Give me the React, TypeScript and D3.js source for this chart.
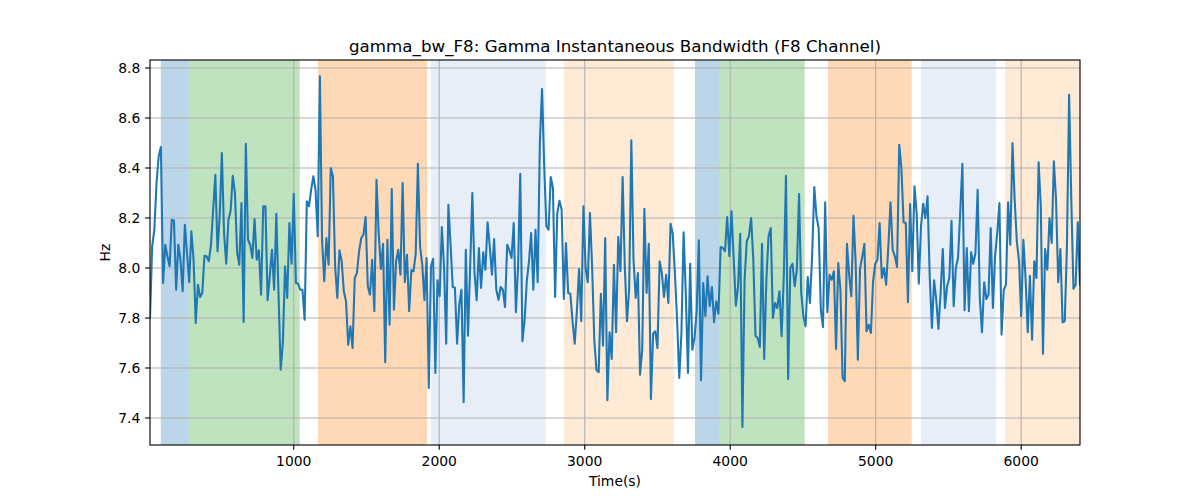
import React from "react";
import * as d3 from "d3";

// ---- data ----
const T0 = 12;
const STEP = 14.97;

const bandwidth: number[] = [
  // segment 1
  7.800, 8.087, 8.153, 8.340, 8.447, 8.484, 7.940, 8.093, 8.047, 8.007,
  8.193, 8.190, 7.913, 8.093, 8.033, 7.907, 8.173, 8.060, 7.943, 8.147,
  8.033, 7.780, 7.933, 7.884, 7.900, 8.049, 8.047, 8.027, 8.093, 8.233,
  8.373, 8.067, 8.207, 8.460, 8.140, 8.017, 8.193, 8.227, 8.369, 8.300,
  8.063, 8.013, 8.260, 7.784, 8.497, 8.113, 8.093, 8.040, 8.196, 8.033,
  8.071, 7.893, 8.247, 8.247, 7.871, 7.967, 8.073, 7.913, 8.217, 7.900,
  7.593, 7.700, 8.007, 7.880, 8.180, 8.017, 8.297, 7.940, 7.937, 7.913,
  7.913,
  // segment 2
  7.793, 8.267, 8.247, 8.313, 8.367, 8.313, 8.127, 8.767, 8.113, 7.947,
  8.120, 8.013, 8.400, 8.367, 8.007, 7.880, 8.071, 8.027, 7.907, 7.867,
  7.693, 7.767, 7.680, 7.960, 7.980, 8.067, 8.120, 8.133, 8.204, 7.927,
  7.893, 8.033, 7.827, 8.353, 8.140, 7.996, 8.097, 7.623, 8.113, 7.773,
  8.316, 7.833, 8.027, 8.073, 7.973, 8.340, 7.943, 8.053, 7.827, 7.991,
  7.987, 8.057, 8.417, 8.087, 8.013, 7.871, 8.040, 7.520, 8.007, 8.037,
  7.580, 7.951, 7.887, 8.164, 8.007, 7.697, 8.253, 8.093, 7.924, 7.921,
  7.697,
  // segment 3
  7.853, 7.913, 7.463, 8.073, 7.729, 8.007, 8.300, 7.980, 7.871, 8.080,
  7.920, 8.063, 7.993, 8.183, 8.087, 7.973, 8.116, 7.913, 7.873, 7.924,
  7.913, 7.844, 8.093, 8.071, 8.040, 8.180, 7.823, 8.007, 8.377, 7.707,
  7.793, 7.947, 8.027, 8.140, 7.913, 8.153, 7.943, 8.500, 8.716, 8.407,
  8.167, 8.153, 8.364, 8.320, 7.884, 8.220, 8.269, 8.233, 7.876, 8.100,
  7.900, 7.897, 7.787, 7.697, 7.827, 7.996, 7.787, 8.247, 8.000, 7.943,
  8.220, 8.004, 7.711, 7.591, 7.583, 7.897, 7.689, 8.120, 7.471, 7.743,
  7.636,
  // segment 4
  8.013, 7.743, 8.124, 7.987, 8.364, 8.007, 7.787, 7.913, 8.511, 8.033,
  7.880, 7.980, 7.573, 7.673, 8.237, 7.900, 8.097, 7.476, 7.737, 7.747,
  7.680, 8.027, 7.980, 7.884, 7.973, 7.860, 8.177, 8.137, 7.980, 7.793,
  7.560, 7.740, 8.143, 7.900, 7.580, 8.017, 7.673, 7.720, 7.827, 8.111,
  7.551, 7.940, 7.807, 7.967, 7.847, 7.924, 7.783, 7.867, 7.817, 8.084,
  8.080, 8.067, 8.204, 8.047, 8.227, 8.036, 7.849, 7.927, 8.137, 7.364,
  7.953, 8.107, 8.127, 8.200, 8.033, 7.729, 7.720, 7.684, 8.097, 7.636,
  7.953,
  // segment 5
  8.127, 8.160, 7.800, 7.860, 7.840, 7.907, 7.727, 7.967, 8.369, 7.556,
  8.000, 8.017, 7.927, 7.993, 8.296, 7.900, 7.807, 7.767, 7.964, 7.860,
  8.047, 8.324, 8.207, 8.160, 7.833, 7.764, 8.263, 7.823, 7.973, 7.953,
  7.987, 7.676, 8.020, 7.913, 7.560, 7.547, 8.097, 7.973, 7.887, 8.209,
  8.020, 7.633, 7.996, 8.044, 8.097, 7.747, 7.773, 7.740, 7.947, 8.017,
  8.033, 8.180, 7.960, 8.000, 7.933, 8.087, 8.263, 8.073, 8.047, 8.004,
  8.493, 8.400, 8.183, 8.180, 7.863, 8.256, 7.987, 8.327, 8.220, 7.937,
  8.167,
  // segment 6
  8.257, 8.200, 8.287, 7.967, 7.760, 7.951, 7.873, 7.756, 7.900, 8.076,
  7.840, 7.927, 7.960, 8.189, 7.847, 8.000, 8.040, 8.223, 8.417, 7.831,
  8.080, 7.827, 8.063, 8.017, 8.060, 8.313, 7.880, 7.743, 7.943, 7.876,
  7.893, 8.160, 7.840, 8.047, 8.140, 8.260, 7.733, 7.913, 7.933, 8.263,
  8.093, 8.500, 8.273, 8.107, 8.027, 7.807, 8.113, 7.960, 7.743, 7.969,
  7.713, 8.027, 7.960, 8.423, 8.247, 7.657, 8.076, 7.993, 8.200, 8.100,
  8.427, 8.273, 7.943, 8.076, 7.783, 7.787, 8.087, 8.693, 8.273, 7.917,
  7.933, 8.183, 7.929,
];

const times: number[] = bandwidth.map((_, i) => T0 + i * STEP);

const spanStarts: number[] = [86, 278, 1167, 1943, 2858, 3758, 3925, 4672, 5311, 5889];
const spanEnds: number[] = [278, 1041, 1916, 2732, 3612, 3925, 4512, 5247, 5827, 6500];
const spanColors: string[] = [
  "#1f77b4", "#2ca02c", "#ff7f0e", "#aec7e8", "#ffbb78",
  "#1f77b4", "#2ca02c", "#ff7f0e", "#aec7e8", "#ffbb78",
];

const xTicks: number[] = [1000, 2000, 3000, 4000, 5000, 6000];
const yTicks: number[] = [7.4, 7.6, 7.8, 8.0, 8.2, 8.4, 8.6, 8.8];

const TITLE = "gamma_bw_F8: Gamma Instantaneous Bandwidth (F8 Channel)";
const X_LABEL = "Time(s)";
const Y_LABEL = "Hz";

// ---- layout ----
const W = 1200;
const H = 500;
const M = { left: 150, right: 1080, top: 60, bottom: 445 };
const FONT = "'DejaVu Sans', sans-serif";

export default function App() {
  const x = d3
    .scaleLinear()
    .domain([times[0], times[times.length - 1]])
    .range([M.left, M.right]);
  const y = d3.scaleLinear().domain([7.292, 8.832]).range([M.bottom, M.top]);

  const line = d3
    .line<number>()
    .x((_, i) => x(times[i]))
    .y((d) => y(d));

  const tickLen = 4.86;

  return (
    <>
      <style>{`body{margin:0;}`}</style>
      <svg width={W} height={H} style={{ display: "block", background: "#fff" }}>
        <defs>
          <clipPath id="plot">
            <rect x={M.left} y={M.top} width={M.right - M.left} height={M.bottom - M.top} />
          </clipPath>
        </defs>
        <g clipPath="url(#plot)">
          {spanStarts.map((s, i) => (
            <rect
              key={i}
              x={x(s)}
              y={M.top}
              width={x(spanEnds[i]) - x(s)}
              height={M.bottom - M.top}
              fill={spanColors[i]}
              fillOpacity={0.3}
            />
          ))}
          {xTicks.map((t) => (
            <line key={"gx" + t} x1={x(t)} x2={x(t)} y1={M.top} y2={M.bottom} stroke="#b0b0b0" strokeWidth={1.11} />
          ))}
          {yTicks.map((t) => (
            <line key={"gy" + t} x1={M.left} x2={M.right} y1={y(t)} y2={y(t)} stroke="#b0b0b0" strokeWidth={1.11} />
          ))}
          <path d={line(bandwidth) || ""} fill="none" stroke="#1f77b4" strokeWidth={2.08} strokeLinejoin="round" />
        </g>
        <rect
          x={M.left}
          y={M.top}
          width={M.right - M.left}
          height={M.bottom - M.top}
          fill="none"
          stroke="#000"
          strokeWidth={1.11}
        />
        {xTicks.map((t) => (
          <g key={"xt" + t}>
            <line x1={x(t)} x2={x(t)} y1={M.bottom} y2={M.bottom + tickLen} stroke="#000" strokeWidth={1.11} />
            <text x={x(t)} y={M.bottom + 21} textAnchor="middle" fontFamily={FONT} fontSize={13.9} fill="#000">
              {t}
            </text>
          </g>
        ))}
        {yTicks.map((t) => (
          <g key={"yt" + t}>
            <line x1={M.left - tickLen} x2={M.left} y1={y(t)} y2={y(t)} stroke="#000" strokeWidth={1.11} />
            <text x={M.left - 9.7} y={y(t) + 5} textAnchor="end" fontFamily={FONT} fontSize={13.9} fill="#000">
              {t.toFixed(1)}
            </text>
          </g>
        ))}
        <text x={(M.left + M.right) / 2} y={486} textAnchor="middle" fontFamily={FONT} fontSize={13.9} fill="#000">
          {X_LABEL}
        </text>
        <text
          transform={`translate(110, ${(M.top + M.bottom) / 2}) rotate(-90)`}
          textAnchor="middle"
          fontFamily={FONT}
          fontSize={13.9}
          fill="#000"
        >
          {Y_LABEL}
        </text>
        <text x={(M.left + M.right) / 2} y={52} textAnchor="middle" fontFamily={FONT} fontSize={16.7} fill="#000">
          {TITLE}
        </text>
      </svg>
    </>
  );
}
